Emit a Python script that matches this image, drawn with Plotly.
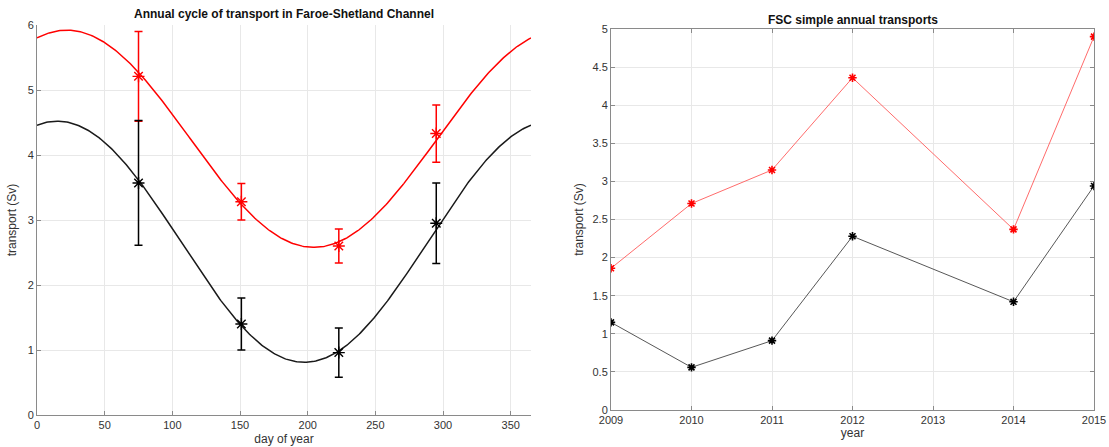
import numpy as np
import plotly.graph_objects as go

# ---- Left panel: annual cycle (day of year) ----
days = [75, 151, 223, 295]
red_transport = [5.21, 3.28, 2.60, 4.33]
red_err = [0.69, 0.28, 0.26, 0.44]
black_transport = [3.57, 1.40, 0.96, 2.95]
black_err = [0.96, 0.40, 0.38, 0.62]

# annual harmonic fit coefficients: mean, amplitude, day of maximum
red_fit = {"mean": 4.25, "amp": 1.67, "peak_day": 22.0}
black_fit = {"mean": 2.665, "amp": 1.855, "peak_day": 15.0}

# ---- Right panel: simple annual transports ----
years = [2009, 2010, 2011, 2012, 2014, 2015]
red_annual = [1.86, 2.71, 3.15, 4.36, 2.37, 4.90]
black_annual = [1.15, 0.56, 0.91, 2.28, 1.42, 2.94]

left_xticks = [0, 50, 100, 150, 200, 250, 300, 350]
left_yticks = [0, 1, 2, 3, 4, 5, 6]
right_xticks = [2009, 2010, 2011, 2012, 2013, 2014, 2015]
right_yticks = [0, 0.5, 1, 1.5, 2, 2.5, 3, 3.5, 4, 4.5, 5]

RED = "#ff0000"
BLACK = "#000000"
FONT = "Liberation Sans, Arial, sans-serif"
AXIS_COL = "#8a8a8a"
GRID_COL = "#e8e8e8"

t = np.arange(0, 366)


def harmonic(p):
    return p["mean"] + p["amp"] * np.cos(2 * np.pi * (t - p["peak_day"]) / 365.0)


fig = go.Figure()

# fitted annual cycles
fig.add_trace(go.Scatter(x=t, y=harmonic(red_fit), mode="lines",
                         line=dict(color=RED, width=1.5), xaxis="x", yaxis="y",
                         hoverinfo="skip"))
fig.add_trace(go.Scatter(x=t, y=harmonic(black_fit), mode="lines",
                         line=dict(color="#1a1a1a", width=1.5), xaxis="x", yaxis="y",
                         hoverinfo="skip"))

# seasonal means with error bars
for vals, errs, col in [(red_transport, red_err, RED), (black_transport, black_err, BLACK)]:
    fig.add_trace(go.Scatter(
        x=days, y=vals, mode="markers", xaxis="x", yaxis="y",
        marker=dict(symbol="asterisk-open", size=10, color=col,
                    line=dict(color=col, width=1.4)),
        error_y=dict(type="data", array=errs, visible=True, color=col,
                     thickness=1.5, width=4),
    ))

# annual transports
for vals, col, lcol in [(red_annual, RED, "#ff5a5a"), (black_annual, BLACK, "#444444")]:
    fig.add_trace(go.Scatter(
        x=years, y=vals, mode="lines+markers", xaxis="x2", yaxis="y2",
        line=dict(color=lcol, width=0.9),
        marker=dict(symbol="asterisk-open", size=7, color=col,
                    line=dict(color=col, width=1.6)),
    ))

W, H = 1109, 447
lx0, lx1, ly0, ly1 = 37, 531, 25, 415
rx0, rx1, ry0, ry1 = 611, 1094, 29, 410

axis_common = dict(
    showgrid=True, gridcolor=GRID_COL, gridwidth=1,
    showline=True, linecolor=AXIS_COL, linewidth=1,
    ticks="inside", ticklen=4, tickcolor=AXIS_COL,
    tickfont=dict(family=FONT, size=11, color="#333333"),
    zeroline=False, automargin=False,
)

fig.update_layout(
    width=W, height=H,
    margin=dict(l=0, r=0, t=0, b=0),
    paper_bgcolor="white", plot_bgcolor="white",
    showlegend=False,
    font=dict(family=FONT, color="#333333"),
    xaxis=dict(axis_common, domain=[lx0 / W, lx1 / W], range=[0, 365],
               tickvals=left_xticks, anchor="y",
               title=dict(text="day of year", font=dict(size=12), standoff=4)),
    yaxis=dict(axis_common, domain=[1 - ly1 / H, 1 - ly0 / H], range=[0, 6],
               tickvals=left_yticks, anchor="x",
               title=dict(text="transport (Sv)", font=dict(size=12), standoff=8)),
    xaxis2=dict(axis_common, domain=[rx0 / W, rx1 / W], range=[2009, 2015],
                tickvals=right_xticks, anchor="y2", mirror="ticks",
                title=dict(text="year", font=dict(size=12), standoff=2)),
    yaxis2=dict(axis_common, domain=[1 - ry1 / H, 1 - ry0 / H], range=[0, 5],
                tickvals=right_yticks, anchor="x2", mirror="ticks",
                title=dict(text="transport (Sv)", font=dict(size=12), standoff=6)),
    annotations=[
        dict(text="<b>Annual cycle of transport in Faroe-Shetland Channel</b>",
             x=(lx0 + lx1) / 2 / W, y=1 - 14 / H, xref="paper", yref="paper",
             xanchor="center", yanchor="middle",
             showarrow=False, font=dict(family=FONT, size=12, color="#111111")),
        dict(text="<b>FSC simple annual transports</b>",
             x=(rx0 + rx1) / 2 / W, y=1 - 20 / H, xref="paper", yref="paper",
             xanchor="center", yanchor="middle",
             showarrow=False, font=dict(family=FONT, size=12, color="#111111")),
    ],
)

fig.write_html("out.html")
